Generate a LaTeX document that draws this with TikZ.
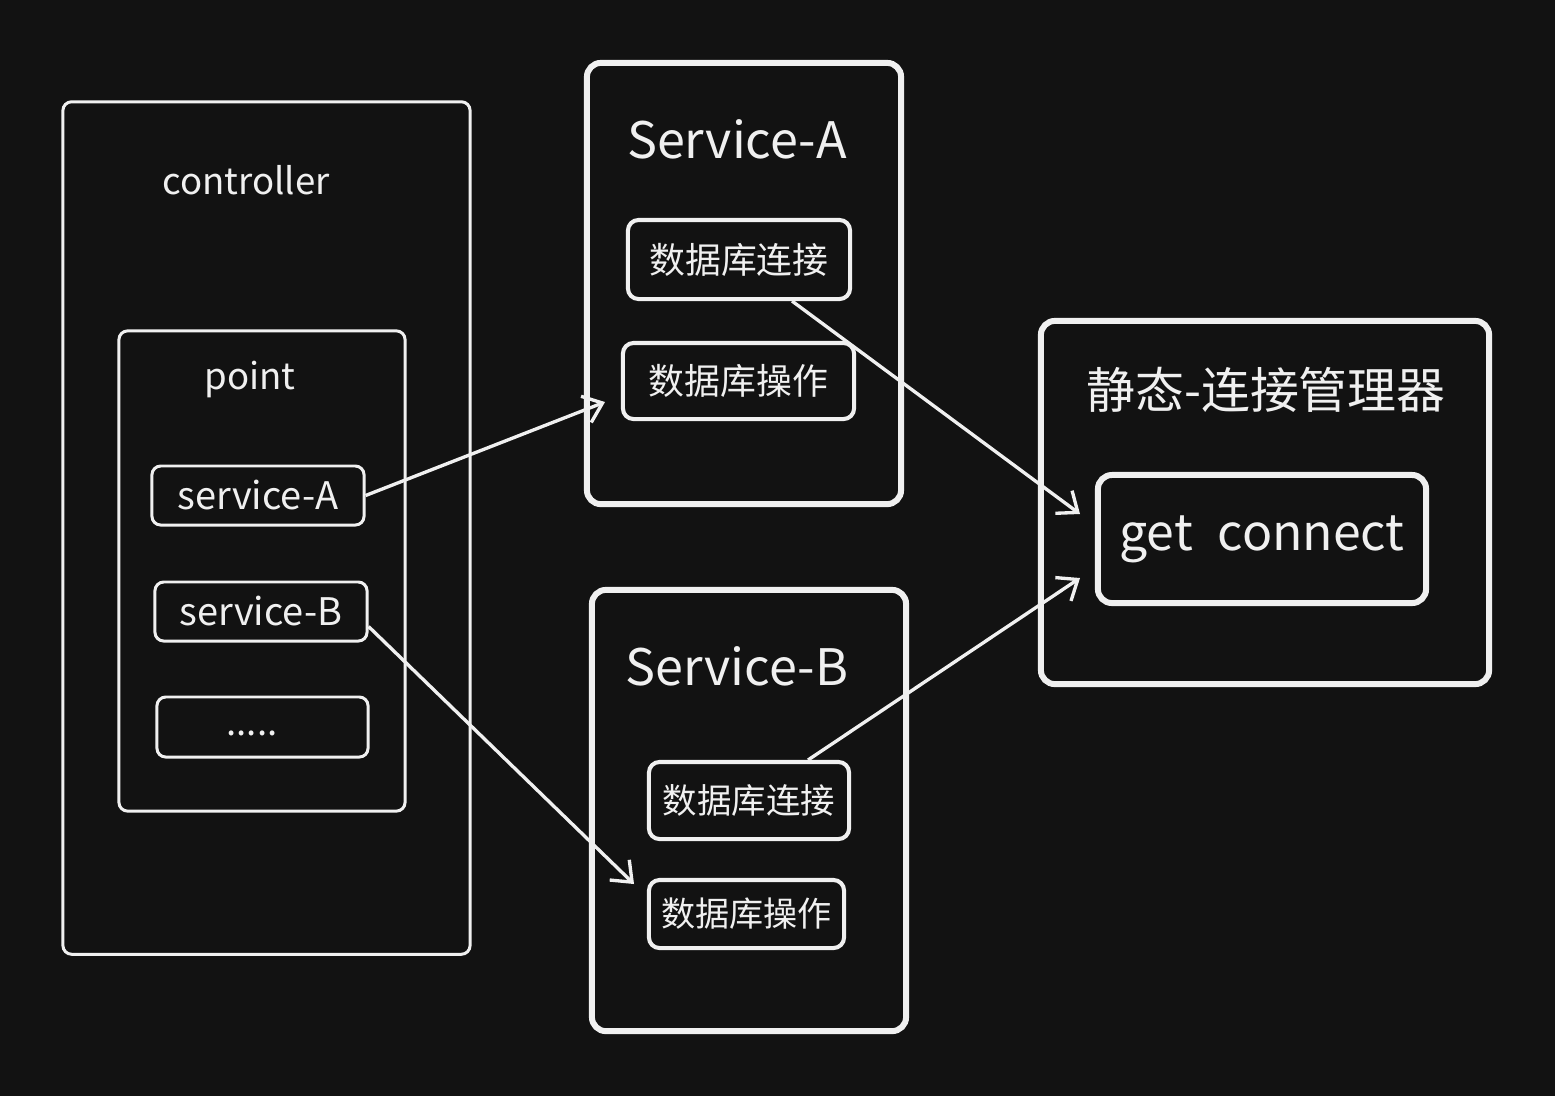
\documentclass[tikz,border=0pt]{standalone}
\usepackage{fontspec}
\setmainfont{Noto Sans CJK SC}
\usetikzlibrary{arrows.meta}
\definecolor{bg}{HTML}{121212}
\definecolor{fg}{HTML}{F0F0F0}
\tikzset{
  thinbox/.style={draw=fg, line width=0.85pt, rounded corners=2.5pt, inner sep=0pt},
  midbox/.style={draw=fg, line width=1.15pt, rounded corners=3pt, inner sep=0pt},
  thickbox/.style={draw=fg, line width=1.7pt, rounded corners=4pt, inner sep=0pt},
  lbl/.style={text=fg, inner sep=0pt},
  arr/.style={draw=fg, line width=0.95pt, -{Straight Barb[length=5pt,width=8pt,line width=0.95pt]}},
}
\begin{document}
\begin{tikzpicture}[x=0.01cm, y=-0.01cm]
\path[fill=bg, use as bounding box] (0,0) rectangle (1555,1096);

%% controller side
\node[thinbox, minimum width=4.07cm, minimum height=8.52cm] (ctrl) at (266.5,528) {};
\node[lbl, font=\fontsize{10.4}{12}\selectfont] (ctrltxt) at (246,180) {controller};
\node[thinbox, minimum width=2.86cm, minimum height=4.80cm] (point) at (262,571) {};
\node[lbl, font=\fontsize{10.4}{12}\selectfont] (pointtxt) at (250,379) {point};
\node[thinbox, minimum width=2.12cm, minimum height=0.59cm, font=\fontsize{10.8}{13}\selectfont, text=fg] (svcA) at (258,495.5) {service-A};
\node[thinbox, minimum width=2.12cm, minimum height=0.59cm, font=\fontsize{10.8}{13}\selectfont, text=fg] (svcB) at (261,611.5) {service-B};
\node[thinbox, minimum width=2.11cm, minimum height=0.60cm] (more) at (262.5,727) {};
\node[lbl, font=\fontsize{10.4}{12}\selectfont] (moretxt) at (252,733) {.....};

%% Service-A
\node[thickbox, minimum width=3.14cm, minimum height=4.41cm] (SA) at (744,283.5) {};
\node[lbl, font=\fontsize{14.3}{17}\selectfont] (SAtxt) at (737,139) {Service-A};
\node[midbox, minimum width=2.22cm, minimum height=0.79cm, font=\fontsize{10.2}{12}\selectfont, text=fg] (connA) at (739,259.5) {数据库连接};
\node[midbox, minimum width=2.31cm, minimum height=0.76cm, font=\fontsize{10.2}{12}\selectfont, text=fg] (opA) at (738.5,381) {数据库操作};

%% Service-B
\node[thickbox, minimum width=3.14cm, minimum height=4.41cm] (SB) at (749,810.5) {};
\node[lbl, font=\fontsize{14.3}{17}\selectfont] (SBtxt) at (737,666) {Service-B};
\node[midbox, minimum width=2.00cm, minimum height=0.77cm, font=\fontsize{9.8}{12}\selectfont, text=fg] (connB) at (749,800.5) {数据库连接};
\node[midbox, minimum width=1.95cm, minimum height=0.68cm, font=\fontsize{9.7}{12}\selectfont, text=fg] (opB) at (746.5,914) {数据库操作};

%% manager
\node[thickbox, minimum width=4.48cm, minimum height=3.63cm] (mgr) at (1265,502.5) {};
\node[lbl, font=\fontsize{13.9}{16}\selectfont] (mgrtxt) at (1266,390) {静态-连接管理器};
\node[thickbox, minimum width=3.28cm, minimum height=1.28cm, font=\fontsize{14.2}{17}\selectfont, text=fg] (getc) at (1262,539) {get\hspace{0.5em}connect};

%% arrows
\coordinate (tipA) at (605,402);
\coordinate (tipB) at (634,884);
\coordinate (tipC) at (1080,514);
\coordinate (tipD) at (1080,578);
\draw[arr] (svcA.east) -- (tipA);
\draw[arr] ([yshift=-0.15cm]svcB.east) -- (tipB);
\draw[arr] ([xshift=0.53cm]connA.south) -- (tipC);
\draw[arr] ([xshift=0.59cm]connB.north) -- (tipD);

\end{tikzpicture}
\end{document}
